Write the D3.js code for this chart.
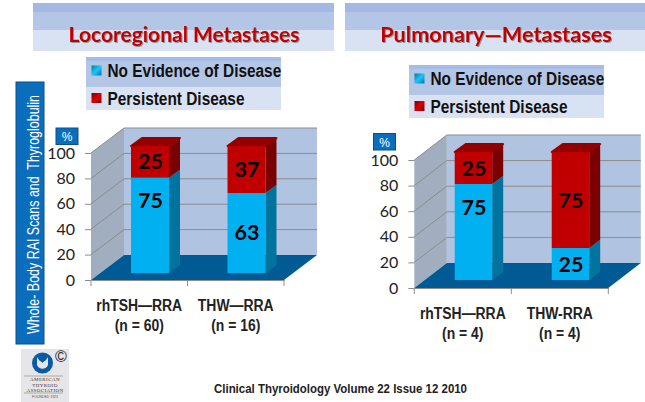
<!DOCTYPE html>
<html>
<head>
<meta charset="utf-8">
<script src="https://cdn.jsdelivr.net/npm/d3@7"></script>
<style>
html, body { margin: 0; padding: 0; background: #fff; }
svg { display: block; }
</style>
</head>
<body>
<svg id="chart" width="645" height="402"></svg>
<script>
// values
var yTicks = [0, 20, 40, 60, 80, 100];
var seriesNames = ["No Evidence of Disease", "Persistent Disease"];
var leftTitle = "Locoregional Metastases";
var leftCategories = ["rhTSH—RRA", "THW—RRA"];
var leftCounts = ["(n = 60)", "(n = 16)"];
var leftNoEvidence = [75, 63];
var leftPersistent = [25, 37];
var rightTitle = "Pulmonary—Metastases";
var rightCategories = ["rhTSH—RRA", "THW-RRA"];
var rightCounts = ["(n = 4)", "(n = 4)"];
var rightNoEvidence = [75, 25];
var rightPersistent = [25, 75];

var BLUE = "#00b0f0", BLUE_SIDE = "#00749e";
var RED = "#c00000", RED_SIDE = "#7a0000", RED_TOP = "#930000";
var SANS = "Lato, 'Open Sans', sans-serif";
var ARIAL = "'Liberation Sans', sans-serif";

var svg = d3.select("#chart");
var defs = svg.append("defs");

var swatchGrad = function (id, c0, c1) {
  var g = defs.append("linearGradient").attr("id", id)
    .attr("x1", 0).attr("y1", 0).attr("x2", 1).attr("y2", 1);
  g.append("stop").attr("offset", "0%").attr("stop-color", c0);
  g.append("stop").attr("offset", "50%").attr("stop-color", c1);
  g.append("stop").attr("offset", "100%").attr("stop-color", c0);
};
swatchGrad("swBlue", "#0076a8", "#21c4f5");
swatchGrad("swRed", "#7a0000", "#e00000");

var blur = defs.append("filter").attr("id", "soft")
  .attr("x", "-10%").attr("y", "-20%").attr("width", "120%").attr("height", "140%");
blur.append("feDropShadow").attr("dx", 1).attr("dy", 1).attr("stdDeviation", 0.7)
  .attr("flood-color", "#555").attr("flood-opacity", 0.55);

// squeeze a text to k of its natural width (no Arial Narrow here)
function narrow(sel, k) {
  sel.attr("textLength", sel.node().getComputedTextLength() * k).attr("lengthAdjust", "spacingAndGlyphs");
  return sel;
}

// stacked pale bands behind titles and legends
function bands(x, y, w, list) {
  var yy = y;
  list.forEach(function (b) {
    svg.append("rect").attr("x", x).attr("y", yy).attr("width", w).attr("height", b[0]).attr("fill", b[1]);
    yy += b[0];
  });
}

function legend(x, y) {
  bands(x, y, 195, [[4, "#a5bce6"], [26, "#b3c6e6"], [23, "#d9e2f3"]]);
  seriesNames.forEach(function (name, i) {
    var sy = y + 8.5 + i * 27.5;
    svg.append("rect").attr("x", x + 5.5).attr("y", sy).attr("width", 10).attr("height", 10)
      .attr("fill", i === 0 ? "url(#swBlue)" : "url(#swRed)");
    var t = svg.append("text").attr("x", x + 21.5).attr("y", sy + 11.5).text(name)
      .style("font-family", ARIAL).style("font-size", "17.5px").style("font-weight", "bold")
      .style("fill", "#111");
    narrow(t, 0.88);
  });
}

function pctBox(x, y) {
  svg.append("rect").attr("x", x).attr("y", y).attr("width", 22).attr("height", 16.5)
    .attr("fill", "#0a6ebd").attr("stroke", "#0a4f8a");
  svg.append("text").attr("x", x + 11).attr("y", y + 13).attr("text-anchor", "middle").text("%")
    .style("font-family", ARIAL).style("font-size", "12px").style("fill", "#fff");
}

function panel(o) {
  var g = svg.append("g");
  var y = d3.scaleLinear().domain([0, 100]).range([o.y0, o.y100]);
  var x = d3.scaleBand().domain(o.categories).range([o.x0, o.x1]);
  var dx = o.dx, dy = o.dy;
  var h = d3.scaleLinear().domain([0, 100]).range([0, o.y0 - o.y100]);

  // back wall, side wall, floor
  g.append("rect").attr("x", o.x0 + dx).attr("y", o.y100 + dy).attr("width", o.x1 - o.x0)
    .attr("height", o.y0 - o.y100).attr("fill", "#b0c4e2");
  g.append("polygon").attr("fill", "#a0aebf").attr("points", [
    [o.x0, o.y0], [o.x0, o.y100], [o.x0 + dx, o.y100 + dy], [o.x0 + dx, o.y0 + dy]].join(" "));

  // gridlines on walls
  var grid = g.selectAll(".grid").data(yTicks.filter(function (d) { return d > 0; })).enter().append("g");
  grid.append("polyline").attr("fill", "none").attr("stroke", "#8c8c8c").attr("stroke-width", 1)
    .attr("points", function (d) {
      return [[o.x0, y(d)], [o.x0 + dx, y(d) + dy], [o.x1 + dx, y(d) + dy]].join(" ");
    });

  g.append("polygon").attr("fill", "#005a93").attr("points", [
    [o.x0, o.y0], [o.x1, o.y0], [o.x1 + dx, o.y0 + dy], [o.x0 + dx, o.y0 + dy]].join(" "));

  // axes
  var yAxis = g.append("g").attr("transform", "translate(" + o.x0 + ",0)")
    .call(d3.axisLeft(y).tickValues(yTicks).tickSize(6).tickPadding(10));
  yAxis.select(".domain").remove();
  yAxis.selectAll("line").attr("stroke", "#8c8c8c");
  yAxis.selectAll("text").style("font-family", SANS).style("font-size", "16px").style("fill", "#222");

  var xAxis = g.append("g").attr("transform", "translate(0," + o.y0 + ")")
    .call(d3.axisBottom(x).tickSize(0).tickFormat(""));
  xAxis.select(".domain").attr("stroke", "#8c8c8c");
  [o.x0, (o.x0 + o.x1) / 2, o.x1].forEach(function (tx) {
    xAxis.append("line").attr("x1", tx).attr("x2", tx).attr("y1", 0).attr("y2", 6).attr("stroke", "#8c8c8c");
  });

  // bars: 3D box per stacked segment
  var barW = o.barW, sd = o.sideX, su = o.sideY;
  o.categories.forEach(function (c, i) {
    var left = x(c) + o.barOff;
    var base = o.y0 - o.lift;
    var noEv = o.noEvidence[i], per = o.persistent[i];
    var yMid = base - h(noEv), yTop = yMid - h(per);

    g.append("polygon").attr("fill", BLUE_SIDE).attr("points", [
      [left + barW, base], [left + barW + sd, base - su], [left + barW + sd, yMid - su], [left + barW, yMid]].join(" "));
    g.append("polygon").attr("fill", RED_SIDE).attr("points", [
      [left + barW, yMid], [left + barW + sd, yMid - su], [left + barW + sd, yTop - su], [left + barW, yTop]].join(" "));
    g.append("polygon").attr("fill", RED_TOP).attr("stroke", RED_TOP).attr("stroke-width", 2).attr("stroke-linejoin", "round")
      .attr("points", [
        [left, yTop], [left + barW, yTop], [left + barW + sd, yTop - su], [left + sd, yTop - su]].join(" "));
    g.append("rect").attr("x", left).attr("y", yMid).attr("width", barW).attr("height", base - yMid).attr("fill", BLUE);
    g.append("rect").attr("x", left).attr("y", yTop).attr("width", barW).attr("height", yMid - yTop).attr("fill", RED);

    // the 75 labels in the first bars sit high in the blue segment
    [[noEv, base, yMid, noEv === 75 ? 25 : 0], [per, yMid, yTop, 0]].forEach(function (s) {
      g.append("text").attr("x", left + barW / 2 + 0.5).attr("y", (s[1] + s[2]) / 2 + 7.5 - s[3])
        .attr("text-anchor", "middle").text(s[0])
        .style("font-family", SANS).style("font-size", "21.5px").style("font-weight", "bold").style("fill", "#000");
    });

    // category label
    var lx = x(c) + x.bandwidth() / 2;
    [[c, 31], [o.counts[i], 51]].forEach(function (l) {
      var t = g.append("text").attr("x", lx).attr("y", o.y0 + l[1]).attr("text-anchor", "middle").text(l[0])
        .style("font-family", ARIAL).style("font-size", "16px").style("font-weight", "bold").style("fill", "#222");
      narrow(t, 0.87);
    });
  });
}

// title strips
bands(33, 3, 301, [[9, "#a3b9e4"], [18, "#b3c6e6"], [21, "#d9e2f3"]]);
bands(345, 3, 300, [[9, "#a3b9e4"], [18, "#b3c6e6"], [21, "#d9e2f3"]]);

svg.append("text").attr("x", 184).attr("y", 42).attr("text-anchor", "middle").text(leftTitle)
  .attr("filter", "url(#soft)")
  .style("font-family", SANS).style("font-size", "21px").style("font-weight", "bold").style("fill", "#c00000");
svg.append("text").attr("x", 496).attr("y", 42).attr("text-anchor", "middle").text(rightTitle)
  .attr("filter", "url(#soft)")
  .style("font-family", SANS).style("font-size", "21.7px").style("font-weight", "bold").style("fill", "#c00000");

legend(86, 57);
legend(409, 65);

// side label
svg.append("rect").attr("x", 16).attr("y", 82).attr("width", 28).attr("height", 262)
  .attr("fill", "#0a6ebd").attr("stroke", "#0a4f8a");
svg.append("text").attr("transform", "translate(39,334) rotate(-90)").text("Whole- Body RAI Scans and  Thyroglobulin")
  .attr("textLength", 239).attr("lengthAdjust", "spacingAndGlyphs")
  .style("font-family", ARIAL).style("font-size", "16.5px").style("fill", "#fff")
  .style("white-space", "pre");

pctBox(56, 128);
pctBox(373.5, 133.5);

panel({
  categories: leftCategories, counts: leftCounts, noEvidence: leftNoEvidence, persistent: leftPersistent,
  x0: 91, x1: 284, y0: 280, y100: 153, dx: 33, dy: -25,
  barW: 38, sideX: 11, sideY: 8, barOff: 40, lift: 7
});
panel({
  categories: rightCategories, counts: rightCounts, noEvidence: rightNoEvidence, persistent: rightPersistent,
  x0: 414.3, x1: 608.3, y0: 288, y100: 160, dx: 32.5, dy: -25,
  barW: 37.5, sideX: 11, sideY: 8, barOff: 40.4, lift: 8
});

// logo
var logo = svg.append("g");
logo.append("rect").attr("x", 21).attr("y", 349).attr("width", 48).attr("height", 53).attr("fill", "#e6e6e8");
logo.append("circle").attr("cx", 42.5).attr("cy", 363).attr("r", 10.5).attr("fill", "#0b5aa6");
logo.append("path").attr("d", "M37 357 C39 361 41 361 42.5 363 C44 361 46 361 48 357 L48 365 C46 370 39 370 37 365 Z").attr("fill", "#e6e6e8");
logo.append("text").attr("x", 61).attr("y", 362).attr("text-anchor", "middle").text("©")
  .style("font-family", ARIAL).style("font-size", "16px").style("fill", "#222");
logo.append("line").attr("x1", 24).attr("x2", 63).attr("y1", 376).attr("y2", 376).attr("stroke", "#aaa");
logo.append("line").attr("x1", 24).attr("x2", 63).attr("y1", 393).attr("y2", 393).attr("stroke", "#aaa");
["AMERICAN", "THYROID", "ASSOCIATION"].forEach(function (t, i) {
  logo.append("text").attr("x", 45).attr("y", 381 + i * 5.5).attr("text-anchor", "middle").text(t)
    .style("font-family", "'Liberation Serif', serif").style("font-size", "5px").style("letter-spacing", "0.4px").style("fill", "#333");
});
logo.append("text").attr("x", 45).attr("y", 397.5).attr("text-anchor", "middle").text("FOUNDED 1923")
  .style("font-family", ARIAL).style("font-size", "3.5px").style("fill", "#555");

svg.append("text").attr("x", 340.5).attr("y", 393).attr("text-anchor", "middle")
  .text("Clinical Thyroidology Volume 22 Issue 12 2010")
  .attr("textLength", 253).attr("lengthAdjust", "spacingAndGlyphs")
  .style("font-family", ARIAL).style("font-size", "12px").style("font-weight", "bold").style("fill", "#222");
</script>
</body>
</html>
